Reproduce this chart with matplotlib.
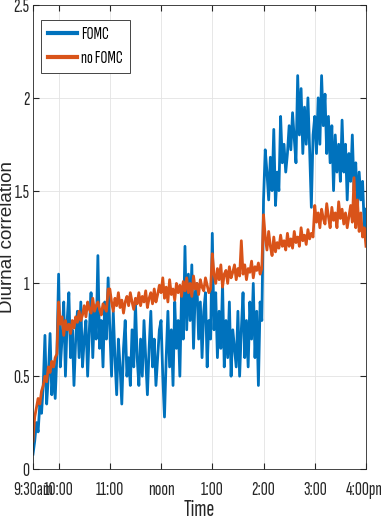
import numpy as np
import matplotlib
matplotlib.use("Agg")
import matplotlib.pyplot as plt

# minutes after 9:30, 2-minute bars
minutes = np.arange(0, 392, 2)

fomc = [
    0.08, 0.15, 0.25, 0.2, 0.35, 0.3, 0.45, 0.72, 0.35, 0.5, 0.73, 0.4, 0.55, 0.38, 0.62,
    1.05, 0.55, 0.7, 0.9, 0.5, 0.8, 0.95, 0.6, 0.75, 0.45, 0.7, 0.85, 0.6, 0.9, 0.55,
    0.7, 0.8, 0.5, 0.75, 0.95, 0.6, 0.85, 0.7, 1.15, 0.65, 0.8, 0.55, 0.9, 0.7, 1.03,
    0.75, 0.5, 0.85, 0.6, 0.4, 0.7, 0.55, 0.35, 0.65, 0.8, 0.5, 0.6, 0.45, 0.75, 0.55,
    0.9, 0.6, 0.45, 0.7, 0.5, 0.8, 0.6, 0.4, 0.65, 0.85, 0.55, 0.7, 0.45, 0.6, 0.75,
    0.8, 0.5, 0.28, 0.6, 0.85, 0.55, 0.75, 0.45, 0.9, 0.65, 0.8, 0.5, 0.95, 0.7, 1.2,
    0.75, 1.05, 0.8, 1.1, 0.65, 0.95, 1.0, 0.7, 0.9, 0.6, 0.85, 0.95, 0.55, 0.8, 0.7,
    1.27, 0.75, 0.95, 0.6, 0.85, 0.65, 1.0, 0.55, 0.8, 0.6, 0.9, 0.5, 0.75, 0.65, 0.55,
    0.85, 0.5, 0.75, 0.95, 0.6, 0.8, 0.55, 0.9, 0.7, 1.0, 0.6, 0.85, 0.45, 0.9, 0.8,
    1.45, 1.72, 1.6, 1.45, 1.68, 1.5, 1.83, 1.42, 1.6, 1.5, 1.9, 1.65, 1.75, 1.6, 1.7,
    1.85, 1.72, 1.92, 1.78, 1.65, 2.12, 1.8, 2.05, 1.7, 1.95, 1.75, 2.0, 1.72, 1.41, 1.8,
    1.9, 1.7, 2.0, 1.75, 2.12, 1.85, 2.02, 1.7, 1.9, 1.65, 1.85, 1.5, 1.8, 1.6, 1.75,
    1.55, 1.88, 1.6, 1.75, 1.45, 1.7, 1.55, 1.8, 1.5, 1.65, 1.4, 1.6, 1.45, 1.55, 1.3, 1.4,
]

no_fomc = [
    0.15, 0.28, 0.33, 0.38, 0.35, 0.42, 0.45, 0.5, 0.47, 0.55, 0.52, 0.58, 0.55, 0.6, 0.62,
    0.9, 0.78, 0.82, 0.72, 0.8, 0.75, 0.78, 0.73, 0.8, 0.76, 0.82, 0.79, 0.85, 0.8, 0.83,
    0.88, 0.82, 0.9, 0.86, 0.84, 0.92, 0.85, 0.88, 0.9, 0.86, 0.83, 0.89, 0.87, 0.85, 0.97,
    0.97, 0.9, 0.85, 0.92, 0.88, 0.95, 0.87, 0.91, 0.84, 0.9, 0.93, 0.88, 0.95, 0.9, 0.86,
    0.92, 0.89, 0.95, 0.88, 0.93, 0.9, 0.96, 0.87, 0.92, 0.95, 0.89, 0.97, 0.9, 0.94, 0.99,
    0.95, 1.03, 0.92, 0.98, 0.9, 1.02, 0.94, 0.97, 0.91, 1.0, 0.95, 0.99, 0.93, 1.01, 0.96,
    1.03, 0.95, 1.0, 0.93, 1.04, 0.97, 1.0, 0.94, 1.02, 0.98, 0.96, 1.03, 0.99, 0.95, 0.97,
    1.16, 1.05, 1.0, 1.08, 1.02, 1.1, 0.98, 1.05, 1.07, 1.0, 1.09, 1.03, 1.06, 1.1, 1.02,
    1.08, 1.04, 1.23, 1.05, 1.1, 1.02, 1.08, 1.06, 1.12, 1.03, 1.09, 1.07, 1.11, 1.05, 1.08,
    1.37, 1.25, 1.18, 1.28, 1.2, 1.15, 1.25, 1.17, 1.22, 1.19, 1.26, 1.2, 1.23, 1.18, 1.27,
    1.2, 1.24, 1.19, 1.28, 1.22, 1.25, 1.2, 1.3, 1.23, 1.26, 1.21, 1.29, 1.24, 1.27, 1.25,
    1.42, 1.33, 1.38, 1.3, 1.4, 1.35, 1.32, 1.43, 1.36, 1.3, 1.41, 1.34, 1.38, 1.3, 1.44,
    1.35, 1.4, 1.32, 1.38, 1.3, 1.36, 1.42, 1.33, 1.57, 1.3, 1.45, 1.28, 1.38, 1.25, 1.3, 1.2,
]

tick_pos = [0, 30, 90, 150, 210, 270, 330, 390]
tick_labels = ["9:30am", "10:00", "11:00", "noon", "1:00", "2:00", "3:00", "4:00pm"]

narrow = ['Sofia Sans Extra Condensed', 'Roboto Condensed', 'Liberation Sans', 'DejaVu Sans']
plt.rcParams['font.family'] = narrow

dark = '#262626'

fig = plt.figure(figsize=(3.81, 5.23), dpi=100)
ax = fig.add_axes([0.0866, 0.1033, 0.874, 0.887])

ax.plot(minutes, fomc, color='#0072BD', linewidth=2, label='FOMC')
ax.plot(minutes, no_fomc, color='#D95319', linewidth=2, label='no FOMC')

ax.set_xlim(0, 390)
ax.set_ylim(0, 2.5)
ax.set_xticks(tick_pos)
ax.set_xticklabels(tick_labels)
ax.set_yticks([0, 0.5, 1, 1.5, 2, 2.5])
ax.set_yticklabels(["0", "0.5", "1", "1.5", "2", "2.5"])
ax.tick_params(direction='in', top=True, right=True, labelsize=14, length=4,
               color=dark, labelcolor=dark)
ax.tick_params(axis='x', pad=8.5)
ax.tick_params(axis='y', pad=2.5)
ax.grid(True, color='#e3e3e3', linewidth=0.6)
ax.set_axisbelow(True)
for s in ax.spines.values():
    s.set_color(dark)
    s.set_linewidth(0.6)

ax.set_xlabel("Time", fontsize=17, color=dark, labelpad=0)
ax.set_ylabel("Diurnal correlation", fontsize=13.5, color=dark, va='center',
              family=['Liberation Sans', 'DejaVu Sans'])
ax.yaxis.set_label_coords(-0.078, 0.5)

leg = ax.legend(loc='upper left', bbox_to_anchor=(0.024, 0.968), fontsize=12.5,
                handlelength=1.7, fancybox=False, framealpha=1,
                edgecolor=dark, borderpad=0.4, labelspacing=0.5,
                handletextpad=0.2, borderaxespad=0)
leg.get_frame().set_linewidth(0.6)
for line in leg.get_lines():
    line.set_linewidth(3)

fig.savefig("out.png", dpi=100)
